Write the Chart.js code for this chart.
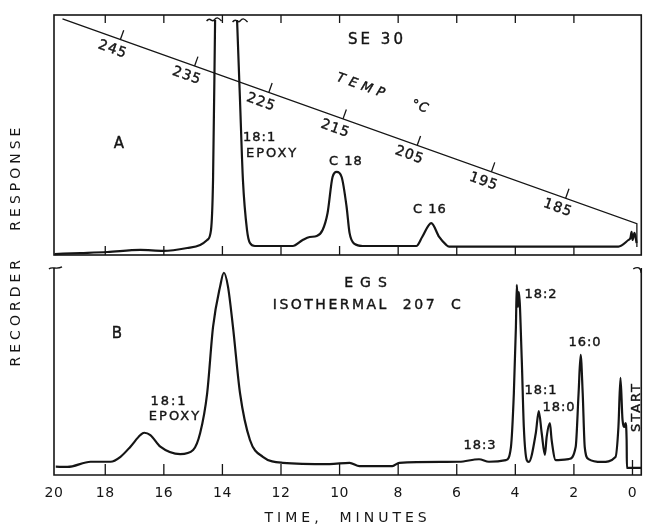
<!DOCTYPE html>
<html>
<head>
<meta charset="utf-8">
<script src="https://cdn.jsdelivr.net/npm/chart.js@4.4.1/dist/chart.umd.min.js"></script>
<style>
  html, body { margin: 0; padding: 0; background: #fff; }
</style>
</head>
<body>
<canvas id="gc" width="647" height="528"></canvas>
<script>
// panel A: SE 30, programmed temperature (time in minutes, response in % of panel height)
var aTime = [19.73, 18.84, 17.93, 16.80, 16.02, 15.20, 14.76, 14.52, 14.39, 14.32, 14.25, 13.9,
  13.50, 13.40, 13.30, 13.16, 13.06, 12.89, 11.60, 11.26, 11.02, 10.78, 10.58, 10.41, 10.24,
  10.10, 9.93, 9.76, 9.66, 9.49, 9.22, 7.38, 7.18, 6.87, 6.60, 6.36, 6.26, 0.48, 0.14, 0.07,
  0.03, 0.00, -0.07, -0.14];
var aResp = [0.4, 0.8, 1.25, 2.1, 1.7, 2.9, 4.2, 6.25, 10.4, 31.3, 97.9, null,
  97.9, 64.6, 31.3, 10.4, 5.0, 3.75, 3.75, 6.25, 7.5, 7.9, 10.4, 17.5, 32.5,
  34.6, 32.5, 20.0, 9.2, 4.6, 3.75, 3.75, 7.5, 13.3, 7.5, 4.2, 3.5, 3.5, 6.25, 7.1,
  9.6, 6.25, 9.2, 5.0];

// panel B: EGS, isothermal 207 C
var bTime = [19.69, 19.29, 18.50, 17.82, 17.48, 17.14, 16.80, 16.67, 16.46, 16.12, 15.44, 15.00,
  14.76, 14.52, 14.32, 14.08, 13.95, 13.81, 13.64, 13.40, 13.06, 12.62, 11.94, 10.34, 9.66, 9.32,
  8.20, 7.96, 5.92, 5.24, 4.90, 4.32, 4.15, 4.05, 3.98, 3.95, 3.91, 3.88, 3.78, 3.71, 3.61, 3.54,
  3.30, 3.20, 3.10, 2.99, 2.93, 2.82, 2.76, 2.62, 2.18, 1.94, 1.84, 1.77, 1.70, 1.63, 1.50, 1.05,
  0.58, 0.48, 0.41, 0.34, 0.27, 0.24, 0.20, 0.19, -0.31];
var bResp = [4.0, 3.9, 6.4, 6.4, 8.8, 13.7, 19.3, 20.4, 19.3, 13.7, 10.1, 12.1,
  20.3, 39.6, 71.5, 91.0, 97.7, 91.0, 71.5, 39.6, 16.9, 8.8, 5.9, 5.3, 5.9, 4.3,
  4.3, 5.9, 6.4, 7.6, 6.4, 7.2, 13.5, 39.6, 71.5, 91.8, 81.2, 88.4, 55.6, 23.2, 7.2, 6.3,
  20.3, 30.9, 20.3, 9.7, 18.4, 25.1, 16.9, 7.2, 7.7, 13.5, 39.6, 58.0, 39.6, 13.5, 7.7, 6.3,
  8.7, 23.2, 46.9, 26.6, 23.2, 25.1, 16.9, 3.4, 3.4];

// temperature program drawn across panel A
var tempTime = [19.46, -0.15, -0.15];
var tempDeg = [252.8, 175.4, 166.5];
var tempTicks = [245, 235, 225, 215, 205, 195, 185];
var timeTicks = [20, 18, 16, 14, 12, 10, 8, 6, 4, 2, 0];

var ink = '#151515';
var face = "'DejaVu Sans', sans-serif";

function pts(xs, ys) {
  return xs.map(function (t, i) { return { x: t, y: ys[i] }; });
}

var labels = [
  { t: 'SE 30', x: 377, y: 40, size: 15, sp: 3 },
  { t: 'A', x: 119, y: 144, size: 15 },
  { t: '18:1', x: 243, y: 138, size: 13, align: 'left', sp: 1 },
  { t: 'EPOXY', x: 246, y: 154, size: 13, align: 'left', sp: 2 },
  { t: 'C 18', x: 346, y: 162, size: 13, sp: 1 },
  { t: 'C 16', x: 430, y: 210, size: 13, sp: 1 },
  { t: 'B', x: 117, y: 334, size: 15 },
  { t: 'EGS', x: 369, y: 283, size: 14, sp: 7 },
  { t: 'ISOTHERMAL  207  C', x: 368, y: 305, size: 14, sp: 2.5 },
  { t: '18:1', x: 169, y: 402, size: 13, sp: 2 },
  { t: 'EPOXY', x: 175, y: 417, size: 13, sp: 2 },
  { t: '18:3', x: 480, y: 446, size: 13, sp: 1 },
  { t: '18:2', x: 541, y: 295, size: 13, sp: 1 },
  { t: '18:1', x: 541, y: 391, size: 13, sp: 1 },
  { t: '18:0', x: 559, y: 408, size: 13, sp: 1 },
  { t: '16:0', x: 585, y: 343, size: 13, sp: 1 },
  { t: 'START', x: 637, y: 407, size: 13, sp: 2, rot: -Math.PI / 2 }
];

function tilde(ctx, cx, cy, w) {
  ctx.beginPath();
  ctx.moveTo(cx - w / 2, cy + 1);
  ctx.bezierCurveTo(cx - w / 4, cy - 4, cx - w / 6, cy + 3, cx, cy);
  ctx.bezierCurveTo(cx + w / 6, cy - 3, cx + w / 4, cy - 3, cx + w / 2, cy + 1);
  ctx.stroke();
}

function ink_text(ctx, s, x, y) {
  ctx.fillText(s, x, y);
  ctx.strokeText(s, x, y);
}

var frames = {
  id: 'frames',
  beforeDraw: function (chart) {
    // axis titles are drawn first, with wide letter spacing
    chart.ctx.letterSpacing = '4px';
  },
  afterDatasetsDraw: function (chart) {
    var ctx = chart.ctx;
    var x = chart.scales.x, yA = chart.scales.yA, yB = chart.scales.yB, yT = chart.scales.yT;
    var L = chart.chartArea.left, R = chart.chartArea.right;
    var aTop = yA.getPixelForValue(100), aBot = yA.getPixelForValue(0);
    var bTop = yB.getPixelForValue(100), bBot = yB.getPixelForValue(0);
    ctx.save();
    ctx.letterSpacing = '0px';
    ctx.strokeStyle = ink;
    ctx.fillStyle = ink;
    ctx.lineWidth = 1.6;
    ctx.strokeRect(L, aTop, R - L, aBot - aTop);
    ctx.beginPath();
    ctx.moveTo(L, bTop); ctx.lineTo(L, bBot); ctx.lineTo(R, bBot); ctx.lineTo(R, bTop);
    ctx.stroke();

    // inward tick marks
    ctx.lineWidth = 1.3;
    ctx.beginPath();
    timeTicks.forEach(function (v) {
      if (v > x.max || v <= 0) return;
      var px = x.getPixelForValue(v);
      ctx.moveTo(px, aTop); ctx.lineTo(px, aTop + 8);
      ctx.moveTo(px, aBot); ctx.lineTo(px, aBot - 9);
      ctx.moveTo(px, bBot); ctx.lineTo(px, bBot - 11);
    });
    var p0 = x.getPixelForValue(0);
    ctx.moveTo(p0, bBot); ctx.lineTo(p0, bBot - 15);
    ctx.stroke();

    // hooks at the top of panel B and the off-scale marks of the big peak
    ctx.lineWidth = 1.4;
    ctx.beginPath();
    ctx.moveTo(L - 5, bTop + 1);
    ctx.bezierCurveTo(L - 2, bTop - 2, L + 2, bTop + 2, L + 8, bTop - 1);
    ctx.moveTo(R - 8, bTop + 1);
    ctx.quadraticCurveTo(R - 1, bTop - 3, R, bTop + 5);
    ctx.stroke();
    var gi = aResp.indexOf(null);
    tilde(ctx, x.getPixelForValue(aTime[gi - 1]) - 1, yA.getPixelForValue(aResp[gi - 1]), 15);
    tilde(ctx, x.getPixelForValue(aTime[gi + 1]) + 3, yA.getPixelForValue(aResp[gi + 1]) + 1, 15);

    // temperature scale along the slanted line
    var x0 = x.getPixelForValue(tempTime[0]), y0 = yT.getPixelForValue(tempDeg[0]);
    var x1 = x.getPixelForValue(tempTime[1]), y1 = yT.getPixelForValue(tempDeg[1]);
    var ang = Math.atan2(y1 - y0, x1 - x0);
    var slope = (tempTime[1] - tempTime[0]) / (tempDeg[1] - tempDeg[0]);
    ctx.textAlign = 'center';
    ctx.textBaseline = 'middle';
    tempTicks.forEach(function (T) {
      var t = tempTime[0] + (T - tempDeg[0]) * slope;
      var px = x.getPixelForValue(t), py = yT.getPixelForValue(T);
      ctx.lineWidth = 1.3;
      ctx.beginPath();
      ctx.moveTo(px, py);
      ctx.lineTo(px + 10 * Math.sin(ang), py - 10 * Math.cos(ang));
      ctx.stroke();
      ctx.save();
      ctx.translate(px, py);
      ctx.rotate(ang);
      ctx.font = '14px ' + face;
      ctx.letterSpacing = '1px';
      ctx.lineWidth = 0.4;
      ink_text(ctx, String(T), -4, 12);
      ctx.restore();
    });
    [['TEMP', 214.0, '5px'], ['\u00B0C', 206.3, '1px']].forEach(function (w) {
      var t = tempTime[0] + (w[1] - tempDeg[0]) * slope;
      ctx.save();
      ctx.translate(x.getPixelForValue(t), yT.getPixelForValue(w[1]));
      ctx.rotate(ang);
      ctx.font = 'italic 13px ' + face;
      ctx.letterSpacing = w[2];
      ctx.lineWidth = 0.4;
      ink_text(ctx, w[0], 0, -37);
      ctx.restore();
    });

    labels.forEach(function (l) {
      ctx.save();
      ctx.font = l.size + 'px ' + face;
      ctx.letterSpacing = (l.sp || 0) + 'px';
      ctx.textAlign = l.align || 'center';
      ctx.textBaseline = 'middle';
      ctx.lineWidth = 0.4;
      ctx.translate(l.x, l.y);
      if (l.rot) ctx.rotate(l.rot);
      ink_text(ctx, l.t, 0, 0);
      ctx.restore();
    });
    ctx.restore();
    // tick labels (z = 1) come after this, with normal spacing
    ctx.letterSpacing = '0.5px';
  }
};

Chart.defaults.font.family = face;
Chart.defaults.color = ink;

new Chart(document.getElementById('gc'), {
  type: 'line',
  data: {
    datasets: [
      { data: pts(aTime, aResp), yAxisID: 'yA', borderColor: ink, borderWidth: 2.2,
        pointRadius: 0, cubicInterpolationMode: 'monotone', spanGaps: false },
      { data: pts(bTime, bResp), yAxisID: 'yB', borderColor: ink, borderWidth: 2.2,
        pointRadius: 0, cubicInterpolationMode: 'monotone' },
      { data: pts(tempTime, tempDeg), yAxisID: 'yT', borderColor: ink, borderWidth: 1.3,
        pointRadius: 0, tension: 0 }
    ]
  },
  options: {
    responsive: false,
    animation: false,
    layout: { padding: { top: 15, right: 4, left: 0, bottom: 0 } },
    plugins: { legend: { display: false }, tooltip: { enabled: false } },
    scales: {
      x: {
        type: 'linear',
        reverse: true,
        min: -0.3,
        max: 19.75,
        grid: { display: false, drawTicks: false },
        border: { display: false },
        afterBuildTicks: function (scale) {
          scale.ticks = timeTicks.map(function (v) { return { value: Math.min(v, scale.max) }; });
        },
        afterFit: function (scale) { scale.height = 53; },
        ticks: {
          z: 1,
          padding: 10,
          font: { size: 14 },
          callback: function (v) { return String(Math.round(v)); }
        },
        title: {
          display: true,
          text: 'TIME,  MINUTES',
          font: { size: 14 },
          padding: { top: 0, bottom: 1 }
        }
      },
      yA: {
        position: 'left',
        min: -91.67,
        max: 100,
        grid: { display: false, drawTicks: false },
        border: { display: false },
        ticks: { display: false },
        afterFit: function (scale) { scale.width = 54; },
        title: {
          display: true,
          text: 'RECORDER   RESPONSE',
          font: { size: 14 },
          padding: { top: 8, bottom: 0 }
        }
      },
      yB: { display: false, min: 0, max: 222.2 },
      yT: { display: false, min: 80.3, max: 254.3 }
    }
  },
  plugins: [frames]
});
</script>
</body>
</html>
